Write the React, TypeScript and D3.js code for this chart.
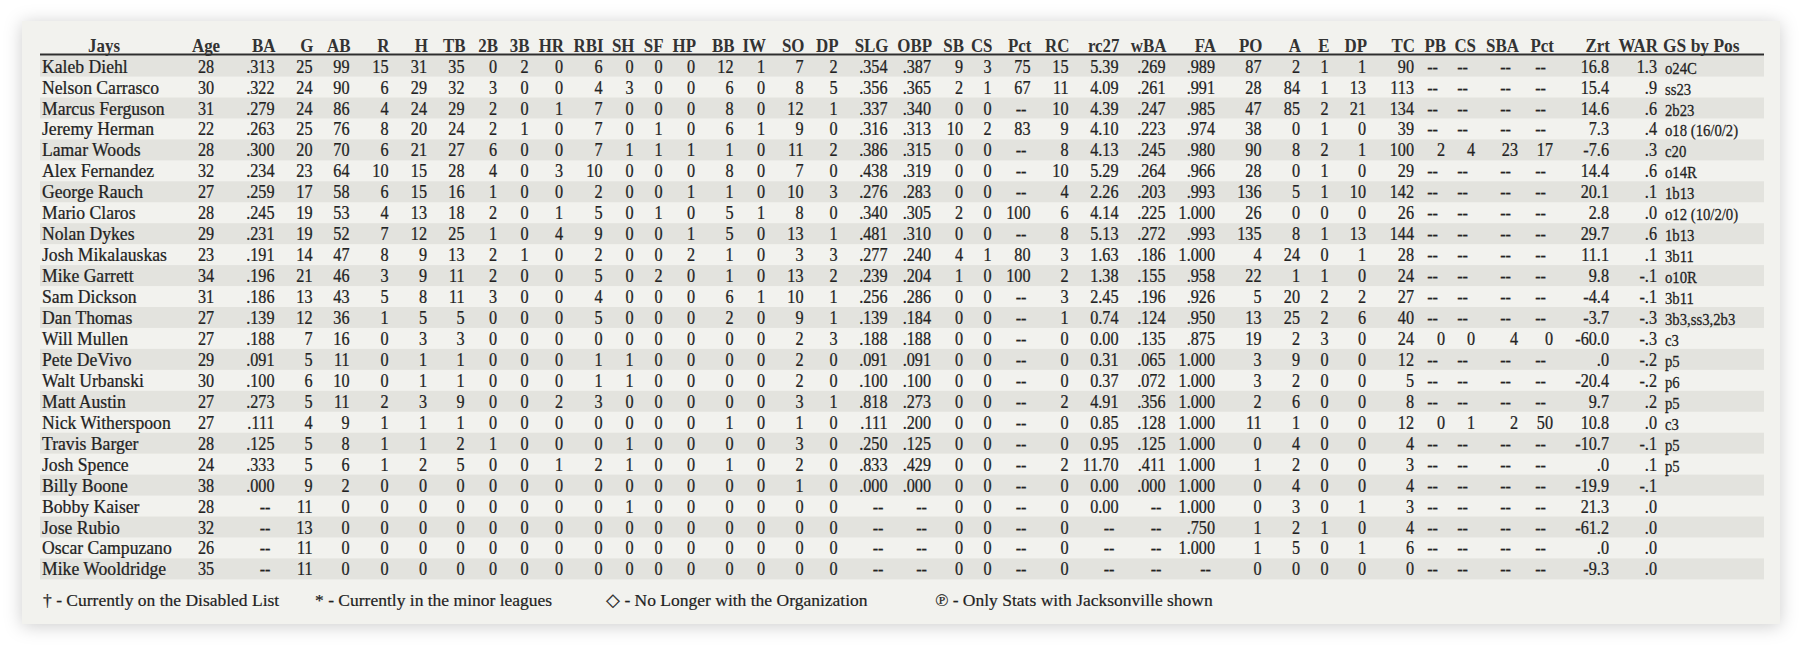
import React from "react";
import * as d3 from "d3";

// roster, batting, fielding - one list per column
const players = [
  "Kaleb Diehl", "Nelson Carrasco", "Marcus Ferguson", "Jeremy Herman", "Lamar Woods",
  "Alex Fernandez", "George Rauch", "Mario Claros", "Nolan Dykes", "Josh Mikalauskas",
  "Mike Garrett", "Sam Dickson", "Dan Thomas", "Will Mullen", "Pete DeVivo",
  "Walt Urbanski", "Matt Austin", "Nick Witherspoon", "Travis Barger", "Josh Spence",
  "Billy Boone", "Bobby Kaiser", "Jose Rubio", "Oscar Campuzano", "Mike Wooldridge",
];
const ages = ["28","30","31","22","28","32","27","28","29","23","34","31","27","27","29","30","27","27","28","24","38","28","32","26","35"];
const ba = [".313",".322",".279",".263",".300",".234",".259",".245",".231",".191",".196",".186",".139",".188",".091",".100",".273",".111",".125",".333",".000","--","--","--","--"];
const games = ["25","24","24","25","20","23","17","19","19","14","21","13","12","7","5","6","5","4","5","5","9","11","13","11","11"];
const atBats = ["99","90","86","76","70","64","58","53","52","47","46","43","36","16","11","10","11","9","8","6","2","0","0","0","0"];
const runs = ["15","6","4","8","6","10","6","4","7","8","3","5","1","0","0","0","2","1","1","1","0","0","0","0","0"];
const hits = ["31","29","24","20","21","15","15","13","12","9","9","8","5","3","1","1","3","1","1","2","0","0","0","0","0"];
const totalBases = ["35","32","29","24","27","28","16","18","25","13","11","11","5","3","1","1","9","1","2","5","0","0","0","0","0"];
const doubles = ["0","3","2","2","6","4","1","2","1","2","2","3","0","0","0","0","0","0","1","0","0","0","0","0","0"];
const triples = ["2","0","0","1","0","0","0","0","0","1","0","0","0","0","0","0","0","0","0","0","0","0","0","0","0"];
const homers = ["0","0","1","0","0","3","0","1","4","0","0","0","0","0","0","0","2","0","0","1","0","0","0","0","0"];
const rbi = ["6","4","7","7","7","10","2","5","9","2","5","4","5","0","1","1","3","0","0","2","0","0","0","0","0"];
const sacHits = ["0","3","0","0","1","0","0","0","0","0","0","0","0","0","1","1","0","0","1","1","0","1","0","0","0"];
const sacFlies = ["0","0","0","1","1","0","0","1","0","0","2","0","0","0","0","0","0","0","0","0","0","0","0","0","0"];
const hitByPitch = ["0","0","0","0","1","0","1","0","1","2","0","0","0","0","0","0","0","0","0","0","0","0","0","0","0"];
const walks = ["12","6","8","6","1","8","1","5","5","1","1","6","2","0","0","0","0","1","0","1","0","0","0","0","0"];
const intWalks = ["1","0","0","1","0","0","0","1","0","0","0","1","0","0","0","0","0","0","0","0","0","0","0","0","0"];
const strikeouts = ["7","8","12","9","11","7","10","8","13","3","13","10","9","2","2","2","3","1","3","2","1","0","0","0","0"];
const gidp = ["2","5","1","0","2","0","3","0","1","3","2","1","1","3","0","0","1","0","0","0","0","0","0","0","0"];
const slg = [".354",".356",".337",".316",".386",".438",".276",".340",".481",".277",".239",".256",".139",".188",".091",".100",".818",".111",".250",".833",".000","--","--","--","--"];
const obp = [".387",".365",".340",".313",".315",".319",".283",".305",".310",".240",".204",".286",".184",".188",".091",".100",".273",".200",".125",".429",".000","--","--","--","--"];
const steals = ["9","2","0","10","0","0","0","2","0","4","1","0","0","0","0","0","0","0","0","0","0","0","0","0","0"];
const caught = ["3","1","0","2","0","0","0","0","0","1","0","0","0","0","0","0","0","0","0","0","0","0","0","0","0"];
const stealPct = ["75","67","--","83","--","--","--","100","--","80","100","--","--","--","--","--","--","--","--","--","--","--","--","--","--"];
const runsCreated = ["15","11","10","9","8","10","4","6","8","3","2","3","1","0","0","0","2","0","0","2","0","0","0","0","0"];
const rc27 = ["5.39","4.09","4.39","4.10","4.13","5.29","2.26","4.14","5.13","1.63","1.38","2.45","0.74","0.00","0.31","0.37","4.91","0.85","0.95","11.70","0.00","0.00","--","--","--"];
const wba = [".269",".261",".247",".223",".245",".264",".203",".225",".272",".186",".155",".196",".124",".135",".065",".072",".356",".128",".125",".411",".000","--","--","--","--"];
const fieldPct = [".989",".991",".985",".974",".980",".966",".993","1.000",".993","1.000",".958",".926",".950",".875","1.000","1.000","1.000","1.000","1.000","1.000","1.000","1.000",".750","1.000","--"];
const putouts = ["87","28","47","38","90","28","136","26","135","4","22","5","13","19","3","3","2","11","0","1","0","0","1","1","0"];
const assists = ["2","84","85","0","8","0","5","0","8","24","1","20","25","2","9","2","6","1","4","2","4","3","2","5","0"];
const errors = ["1","1","2","1","2","1","1","0","1","0","1","2","2","3","0","0","0","0","0","0","0","0","1","0","0"];
const doublePlays = ["1","13","21","0","1","0","10","0","13","1","0","2","6","0","0","0","0","0","0","0","0","1","0","1","0"];
const chances = ["90","113","134","39","100","29","142","26","144","28","24","27","40","24","12","5","8","12","4","3","4","3","4","6","0"];
const passedBalls = ["--","--","--","--","2","--","--","--","--","--","--","--","--","0","--","--","--","0","--","--","--","--","--","--","--"];
const catcherCS = ["--","--","--","--","4","--","--","--","--","--","--","--","--","0","--","--","--","1","--","--","--","--","--","--","--"];
const stealsAllowed = ["--","--","--","--","23","--","--","--","--","--","--","--","--","4","--","--","--","2","--","--","--","--","--","--","--"];
const catcherPct = ["--","--","--","--","17","--","--","--","--","--","--","--","--","0","--","--","--","50","--","--","--","--","--","--","--"];
const zoneRating = ["16.8","15.4","14.6","7.3","-7.6","14.4","20.1","2.8","29.7","11.1","9.8","-4.4","-3.7","-60.0",".0","-20.4","9.7","10.8","-10.7",".0","-19.9","21.3","-61.2",".0","-9.3"];
const war = ["1.3",".9",".6",".4",".3",".6",".1",".0",".6",".1","-.1","-.1","-.3","-.3","-.2","-.2",".2",".0","-.1",".1","-.1",".0",".0",".0",".0"];
const gsByPos = ["o24C","ss23","2b23","o18 (16/0/2)","c20","o14R","1b13","o12 (10/2/0)","1b13","3b11","o10R","3b11","3b3,ss3,2b3","c3","p5","p6","p5","c3","p5","p5","","","","",""];

const footnotes = [
  "† - Currently on the Disabled List",
  "* - Currently in the minor leagues",
  "◇ - No Longer with the Organization",
  "℗ - Only Stats with Jacksonville shown",
];

// layout
const colAnchor = [206, 274.5, 312.5, 349.5, 388.5, 427, 464.5, 497, 528.5, 563, 602.5, 633.5, 662.5, 695, 733.5, 765,
  803.5, 837.5, 887.5, 931, 963, 991.5, 1030.5, 1068.5, 1118.5, 1165.5, 1215, 1261.5, 1300, 1328.5, 1366, 1414,
  1445, 1475, 1518, 1553, 1609, 1657];
const footX = [43, 315, 606, 935];
const FONT = "'Liberation Serif', 'Times New Roman', serif";

const tx = (x: number, y: number, s: number) => `translate(${x},${y}) scale(${s},1)`;

export default function App() {
  const width = 1804;
  const height = 646;
  const left = 40;
  const right = 1764;
  const top = 55.6;
  const rowH = 20.95;

  const cols = [
    { id: "age", label: "Age", values: ages },
    { id: "ba", label: "BA", values: ba },
    { id: "g", label: "G", values: games },
    { id: "ab", label: "AB", values: atBats },
    { id: "r", label: "R", values: runs },
    { id: "h", label: "H", values: hits },
    { id: "tb", label: "TB", values: totalBases },
    { id: "2b", label: "2B", values: doubles },
    { id: "3b", label: "3B", values: triples },
    { id: "hr", label: "HR", values: homers },
    { id: "rbi", label: "RBI", values: rbi },
    { id: "sh", label: "SH", values: sacHits },
    { id: "sf", label: "SF", values: sacFlies },
    { id: "hp", label: "HP", values: hitByPitch },
    { id: "bb", label: "BB", values: walks },
    { id: "iw", label: "IW", values: intWalks },
    { id: "so", label: "SO", values: strikeouts },
    { id: "gdp", label: "DP", values: gidp },
    { id: "slg", label: "SLG", values: slg },
    { id: "obp", label: "OBP", values: obp },
    { id: "sb", label: "SB", values: steals },
    { id: "cs", label: "CS", values: caught },
    { id: "pct", label: "Pct", values: stealPct },
    { id: "rc", label: "RC", values: runsCreated },
    { id: "rc27", label: "rc27", values: rc27 },
    { id: "wba", label: "wBA", values: wba },
    { id: "fa", label: "FA", values: fieldPct },
    { id: "po", label: "PO", values: putouts },
    { id: "a", label: "A", values: assists },
    { id: "e", label: "E", values: errors },
    { id: "dp", label: "DP", values: doublePlays },
    { id: "tc", label: "TC", values: chances },
    { id: "pb", label: "PB", values: passedBalls },
    { id: "ccs", label: "CS", values: catcherCS },
    { id: "sba", label: "SBA", values: stealsAllowed },
    { id: "cpct", label: "Pct", values: catcherPct },
    { id: "zrt", label: "Zrt", values: zoneRating },
    { id: "war", label: "WAR", values: war },
  ];
  const catcherCols = new Set(["pb", "ccs", "sba", "cpct"]);

  const x = d3.scaleOrdinal<string, number>().domain(cols.map((c) => c.id)).range(colAnchor);
  const y = d3
    .scaleBand<number>()
    .domain(d3.range(players.length))
    .range([top, top + rowH * players.length]);

  const headerY = 51.5;
  const gsX = 1665;
  const ink = "#222222";

  return (
    <svg
      width={width}
      height={height}
      style={{ position: "absolute", left: 0, top: 0, background: "#ffffff" }}
      fontFamily={FONT}
    >
      <defs>
        <filter id="shadow" x="-5%" y="-10%" width="110%" height="120%">
          <feDropShadow dx="0" dy="2" stdDeviation="9" floodColor="#000" floodOpacity="0.2" />
        </filter>
      </defs>
      <rect x={22} y={21} width={1758} height={603} fill="#f2f2ee" filter="url(#shadow)" />

      {/* row bands */}
      {players.map((p, i) =>
        i % 2 === 0 ? (
          <rect key={p} x={left} y={y(i)} width={right - left} height={y.bandwidth()} fill="#e3e3de" />
        ) : null
      )}

      {/* header */}
      <g fontWeight="bold" fill="#333333" fontSize={18}>
        <text transform={tx(104, headerY, 0.94)} textAnchor="middle">Jays</text>
        {cols.map((c) => (
          <text
            key={c.id}
            transform={tx(c.id === "age" ? x(c.id) : x(c.id) + 1, headerY, 0.94)}
            textAnchor={c.id === "age" ? "middle" : "end"}
          >
            {c.label}
          </text>
        ))}
        <text transform={tx(gsX - 2, headerY, 0.97)}>GS by Pos</text>
      </g>
      <line x1={left} x2={right} y1={54.4} y2={54.4} stroke="#2e2e2e" strokeWidth={2} />

      {/* body */}
      <g fill={ink} stroke={ink} strokeWidth={0.25} fontSize={18}>
        {players.map((p, i) => {
          const by = (y(i) as number) + 17;
          return (
            <g key={p}>
              <text transform={tx(42, by, 0.98)}>{p}</text>
              {cols.map((c) => {
                const v = c.values[i];
                const dash = v === "--";
                const off = dash ? (catcherCols.has(c.id) ? -7 : -4) : 0;
                return (
                  <text
                    key={c.id}
                    transform={tx(x(c.id) + (c.id === "age" ? 0 : off), by, 0.9)}
                    textAnchor={c.id === "age" ? "middle" : "end"}
                  >
                    {v}
                  </text>
                );
              })}
              <text transform={tx(gsX, by + 1, 0.92)} fontSize={16}>{gsByPos[i]}</text>
            </g>
          );
        })}
      </g>

      {/* footnotes */}
      <g fill={ink} stroke={ink} strokeWidth={0.2} fontSize={17.5}>
        {footnotes.map((f, i) => (
          <text key={f} x={footX[i]} y={605.5}>{f}</text>
        ))}
      </g>
    </svg>
  );
}
